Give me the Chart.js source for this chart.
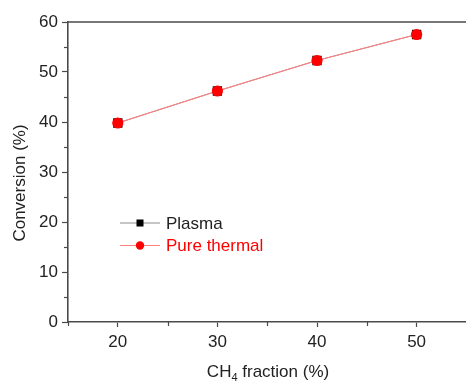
<!DOCTYPE html>
<html>
<head>
<meta charset="utf-8">
<script src="https://cdn.jsdelivr.net/npm/chart.js@4.4.1/dist/chart.umd.min.js"></script>
<style>
html,body{margin:0;padding:0;background:#fff;overflow:hidden;}
#wrap{width:473px;height:381px;position:relative;}
</style>
</head>
<body>
<div id="wrap"><canvas id="c" width="473" height="381"></canvas></div>
<script>
// Data
const ch4Fraction = [20, 30, 40, 50];
const plasmaConversion = [39.8, 46.2, 52.3, 57.5];
const thermalConversion = [39.8, 46.2, 52.3, 57.5];
const seriesNames = ['Plasma', 'Pure thermal'];
const xTickLabels = [20, 30, 40, 50];
const yTickLabels = [0, 10, 20, 30, 40, 50, 60];
const xTitleMain = 'CH';
const xTitleSub = '4';
const xTitleRest = ' fraction (%)';
const yTitle = 'Conversion (%)';

const FONT = '"Liberation Sans", Arial, sans-serif';
const AXIS = '#4a4a4a';

const extras = {
  id: 'extras',
  afterDraw(chart) {
    const ctx = chart.ctx;
    const a = chart.chartArea;
    const xs = chart.scales.x, ys = chart.scales.y;
    ctx.save();
    // top frame line
    ctx.strokeStyle = AXIS;
    ctx.lineWidth = 1.6;
    ctx.beginPath();
    ctx.moveTo(a.left, a.top);
    ctx.lineTo(a.right, a.top);
    ctx.stroke();
    // minor ticks
    ctx.lineWidth = 1.2;
    for (let v = 5; v < 60; v += 10) {
      const py = Math.round(ys.getPixelForValue(v)) + 0.5;
      ctx.beginPath(); ctx.moveTo(a.left - 4, py); ctx.lineTo(a.left, py); ctx.stroke();
    }
    for (let v = 15; v < 55; v += 10) {
      const px = Math.round(xs.getPixelForValue(v)) + 0.5;
      ctx.beginPath(); ctx.moveTo(px, a.bottom); ctx.lineTo(px, a.bottom + 4); ctx.stroke();
    }
    // y title
    ctx.fillStyle = '#222';
    ctx.font = '17px ' + FONT;
    ctx.textAlign = 'center';
    ctx.textBaseline = 'middle';
    ctx.translate(20, 183);
    ctx.rotate(-Math.PI / 2);
    ctx.fillText(yTitle, 0, 0);
    ctx.setTransform(1, 0, 0, 1, 0, 0);
    // x title with subscript
    ctx.textAlign = 'left';
    ctx.textBaseline = 'alphabetic';
    ctx.font = '17px ' + FONT;
    const w1 = ctx.measureText(xTitleMain).width;
    const w3 = ctx.measureText(xTitleRest).width;
    ctx.font = '11px ' + FONT;
    const w2 = ctx.measureText(xTitleSub).width;
    const total = w1 + w2 + w3;
    let x0 = 268 - total / 2;
    const base = 377;
    ctx.font = '17px ' + FONT;
    ctx.fillText(xTitleMain, x0, base);
    ctx.font = '11px ' + FONT;
    ctx.fillText(xTitleSub, x0 + w1, base + 4);
    ctx.font = '17px ' + FONT;
    ctx.fillText(xTitleRest, x0 + w1 + w2, base);
    // legend
    const items = [
      {ds: chart.data.datasets[0], y: 223, textColor: '#222'},
      {ds: chart.data.datasets[1], y: 245.5, textColor: '#ff0000'}
    ];
    items.forEach(it => {
      ctx.strokeStyle = it.ds.borderColor;
      ctx.lineWidth = 1.2;
      ctx.beginPath(); ctx.moveTo(120, it.y); ctx.lineTo(160, it.y); ctx.stroke();
      ctx.fillStyle = it.ds.pointBackgroundColor;
      if (it.ds.pointStyle === 'rect') {
        ctx.fillRect(136.5, it.y - 3.5, 7, 7);
      } else {
        ctx.beginPath(); ctx.arc(140, it.y, 4.2, 0, Math.PI * 2); ctx.fill();
      }
      ctx.fillStyle = it.textColor;
      ctx.font = '17px ' + FONT;
      ctx.textAlign = 'left';
      ctx.textBaseline = 'middle';
      ctx.fillText(it.ds.label, 166, it.y + 1);
    });
    ctx.restore();
  }
};

new Chart(document.getElementById('c'), {
  type: 'line',
  data: {
    datasets: [
      {
        label: seriesNames[0],
        data: ch4Fraction.map((x, i) => ({x, y: plasmaConversion[i]})),
        borderColor: '#8c8c8c',
        borderWidth: 1,
        pointStyle: 'rect',
        pointRadius: 6.6,
        pointBackgroundColor: '#000',
        pointBorderWidth: 0,
        order: 2
      },
      {
        label: seriesNames[1],
        data: ch4Fraction.map((x, i) => ({x, y: thermalConversion[i]})),
        borderColor: '#ff8080',
        borderWidth: 1.2,
        pointStyle: 'circle',
        pointRadius: 5.6,
        pointBackgroundColor: '#ff0000',
        pointBorderWidth: 0,
        order: 1
      }
    ]
  },
  options: {
    responsive: false,
    animation: false,
    devicePixelRatio: 1,
    layout: {padding: {top: 22, right: 0, left: 0, bottom: 0}},
    plugins: {legend: {display: false}, tooltip: {enabled: false}},
    scales: {
      x: {
        type: 'linear',
        min: 15, max: 55,
        afterBuildTicks: s => { s.ticks = xTickLabels.map(v => ({value: v})); },
        afterFit: s => { s.height = 59; s.paddingLeft = 0; s.paddingRight = 0; },
        grid: {display: true, drawOnChartArea: false, drawTicks: true, tickLength: 5, color: AXIS, tickWidth: 1.2},
        border: {display: true, color: AXIS, width: 1.6},
        ticks: {color: '#222', font: {family: FONT, size: 17}, padding: 5, maxRotation: 0}
      },
      y: {
        type: 'linear',
        min: 0, max: 60,
        afterBuildTicks: s => { s.ticks = yTickLabels.map(v => ({value: v})); },
        afterFit: s => { s.width = 68; s.paddingTop = 0; s.paddingBottom = 0; },
        grid: {display: true, drawOnChartArea: false, drawTicks: true, tickLength: 6, color: AXIS, tickWidth: 1.2},
        border: {display: true, color: AXIS, width: 1.6},
        ticks: {color: '#222', font: {family: FONT, size: 17}, padding: 4}
      }
    }
  },
  plugins: [extras]
});
</script>
</body>
</html>
